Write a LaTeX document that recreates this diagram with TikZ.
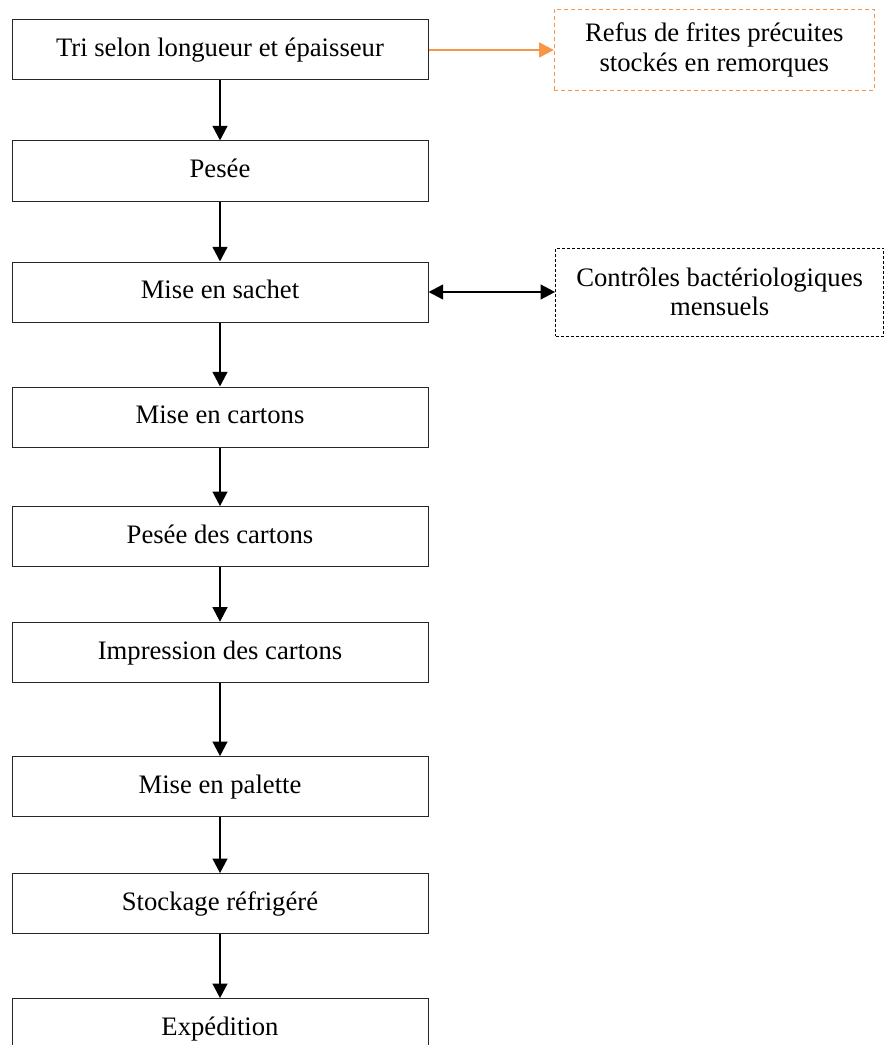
\documentclass[tikz,border=0pt]{standalone}
\usepackage{fontspec}
\setmainfont{Liberation Serif}
\usepackage{tikz}
\usetikzlibrary{arrows.meta,positioning}

\definecolor{refusorange}{RGB}{247,150,70}

\begin{document}
\begin{tikzpicture}[
    node distance=45pt and 94pt,
    block/.style={rectangle, draw=black!85, line width=0.75pt, minimum width=312pt, minimum height=45pt, font=\fontsize{20pt}{21pt}\selectfont, text height=14pt, text depth=4pt, align=center},
    sidebox/.style={rectangle, line width=0.75pt, font=\fontsize{20pt}{22pt}\selectfont, align=center},
    arrow/.style={-{Triangle[width=11pt,length=11pt]}, line width=1.8pt},
    both/.style={{Triangle[width=11pt,length=11pt]}-{Triangle[width=11pt,length=11pt]}, line width=1.8pt}
]
\useasboundingbox (0,0) rectangle (663.75pt,-783.75pt);

% Main chain
\node[block] (tri) at (165pt,-37.5pt) {Tri selon longueur et épaisseur};
\node[block, below=45pt of tri] (pesee) {Pesée};
\node[block, below=45pt of pesee] (sachet) {Mise en sachet};
\node[block, below=48pt of sachet] (cartons) {Mise en cartons};
\node[block, below=44pt of cartons] (pesecart) {Pesée des cartons};
\node[block, below=41pt of pesecart] (impression) {Impression des cartons};
\node[block, below=55pt of impression] (palette) {Mise en palette};
\node[block, below=42pt of palette] (stockage) {Stockage réfrigéré};
\node[block, below=48pt of stockage] (expedition) {Expédition};

% Side boxes
\node[sidebox, draw=refusorange, dash pattern=on 3pt off 2.25pt, minimum width=240pt, minimum height=60.75pt, right=94pt of tri] (refus) {Refus de frites précuites\\stockés en remorques};
\node[sidebox, draw=black, dash pattern=on 2.25pt off 1.5pt, minimum width=246pt, minimum height=66pt, right=95pt of sachet] (controle) {Contrôles bactériologiques\\mensuels};

% Arrows
\draw[arrow] (tri) -- (pesee);
\draw[arrow] (pesee) -- (sachet);
\draw[arrow] (sachet) -- (cartons);
\draw[arrow] (cartons) -- (pesecart);
\draw[arrow] (pesecart) -- (impression);
\draw[arrow] (impression) -- (palette);
\draw[arrow] (palette) -- (stockage);
\draw[arrow] (stockage) -- (expedition);
\draw[arrow, refusorange] (tri.east) -- (tri.east -| refus.west);
\draw[both] (sachet.east) -- (sachet.east -| controle.west);

\end{tikzpicture}
\end{document}
